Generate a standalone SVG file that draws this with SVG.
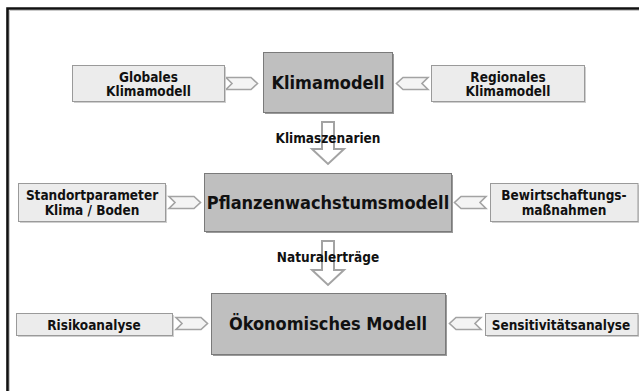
<svg xmlns="http://www.w3.org/2000/svg" width="639" height="391" viewBox="0 0 639 391">
<defs>
<style>
.t{font-family:"DejaVu Sans Condensed","DejaVu Sans",sans-serif;font-weight:bold;font-stretch:condensed;fill:#111;text-anchor:middle;dominant-baseline:central}
.main{fill:#bfbfbf;stroke:#7a7a7a;stroke-width:1}
.side{fill:#ececec;stroke:#9a9a9a;stroke-width:1}
.sh{fill:#cfcfcf}
.mainsh{fill:#9a9a9a}
.chev{fill:#f4f4f4;stroke:#a3a3a3;stroke-width:1.6;stroke-linejoin:miter}
.down{fill:#fff;stroke:#a3a3a3;stroke-width:2;stroke-linejoin:miter}
.big{font-size:18px}
.sm{font-size:13.5px}
</style>
</defs>
<rect x="0" y="0" width="639" height="391" fill="#fff"/>
<path d="M7.5 391 V8.5 H639" fill="none" stroke="#111" stroke-width="2.6"/>
<path d="M9.5 391 V10.5 H639" fill="none" stroke="#bbb" stroke-width="0.8"/>

<g id="connectors">
<polygon class="chev" points="226,77.5 251,77.5 257.5,83.5 251,89.5 226,89.5 232,83.5"/>
<polygon class="chev" points="428,77.5 403,77.5 396.5,83.5 403,89.5 428,89.5 422,83.5"/>
<polygon class="chev" points="169,196.5 194,196.5 200.5,202.5 194,208.5 169,208.5 175,202.5"/>
<polygon class="chev" points="486,196.5 461,196.5 454.5,202.5 461,208.5 486,208.5 480,202.5"/>
<polygon class="chev" points="176,317.5 201,317.5 207.5,323.5 201,329.5 176,329.5 182,323.5"/>
<polygon class="chev" points="481,317.5 456,317.5 449.5,323.5 456,329.5 481,329.5 475,323.5"/>
<polygon class="down" points="322,122 334,122 334,149 344,149 328,164 312,149 322,149"/>
<polygon class="down" points="322,241 334,241 334,270 344,270 328,285 312,270 322,270"/>
<text class="t sm" x="328" y="138">Klimaszenarien</text>
<text class="t sm" x="328" y="257">Naturalerträge</text>
</g>

<g id="klimamodell">
<rect class="mainsh" x="265" y="54" width="129" height="60"/>
<rect class="main" x="263.5" y="52.5" width="129" height="60"/>
<text class="t big" x="328" y="82">Klimamodell</text>
</g>

<g id="globales">
<rect class="sh" x="74" y="67" width="152" height="36"/>
<rect class="side" x="72.5" y="65.5" width="152" height="36"/>
<text class="t sm" x="148.5" y="76.5">Globales</text>
<text class="t sm" x="148.5" y="91">Klimamodell</text>
</g>

<g id="regionales">
<rect class="sh" x="433" y="67" width="153" height="36"/>
<rect class="side" x="431.5" y="65.5" width="153" height="36"/>
<text class="t sm" x="508" y="76.5">Regionales</text>
<text class="t sm" x="508" y="91">Klimamodell</text>
</g>

<g id="pflanzen">
<rect class="mainsh" x="206" y="175" width="247" height="58"/>
<rect class="main" x="204.5" y="173.5" width="247" height="58"/>
<text class="t big" x="328" y="202">Pflanzenwachstumsmodell</text>
</g>

<g id="standort">
<rect class="sh" x="20" y="185" width="147" height="38"/>
<rect class="side" x="18.5" y="183.5" width="147" height="38"/>
<text class="t sm" x="92" y="195">Standortparameter</text>
<text class="t sm" x="92" y="210">Klima / Boden</text>
</g>

<g id="bewirtschaftung">
<rect class="sh" x="492" y="185" width="148" height="38"/>
<rect class="side" x="490.5" y="183.5" width="147.5" height="38"/>
<text class="t sm" x="564" y="195">Bewirtschaftungs-</text>
<text class="t sm" x="564" y="210">maßnahmen</text>
</g>

<g id="oekonomisch">
<rect class="mainsh" x="213" y="295" width="234" height="61"/>
<rect class="main" x="211.5" y="293.5" width="234" height="61"/>
<text class="t big" x="328" y="323.5">Ökonomisches Modell</text>
</g>

<g id="risiko">
<rect class="sh" x="18" y="315" width="156" height="22"/>
<rect class="side" x="16.5" y="313.5" width="156" height="22"/>
<text class="t sm" x="94" y="324.5">Risikoanalyse</text>
</g>

<g id="sensitivitaet">
<rect class="sh" x="487" y="315" width="153" height="22"/>
<rect class="side" x="485.5" y="313.5" width="152.5" height="22"/>
<text class="t sm" x="561" y="324.5">Sensitivitätsanalyse</text>
</g>
</svg>
